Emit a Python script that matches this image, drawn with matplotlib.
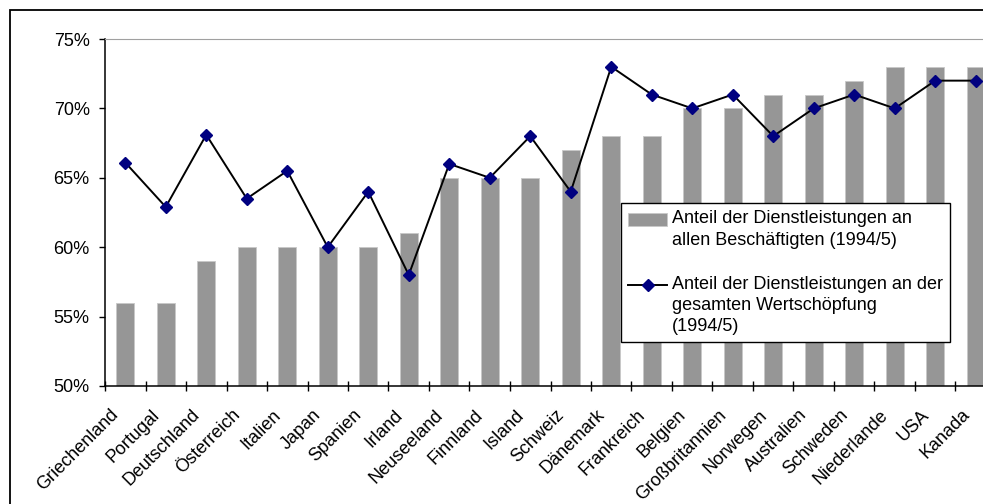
import numpy as np
import matplotlib
matplotlib.use("Agg")
import matplotlib.pyplot as plt
from matplotlib.patches import Rectangle
from matplotlib.ticker import FuncFormatter
from matplotlib.transforms import Affine2D, ScaledTranslation
from matplotlib.legend_handler import HandlerPatch, HandlerLine2D, update_from_first_child

plt.rcParams['font.family'] = ['Liberation Sans', 'DejaVu Sans']

# Länder, sortiert nach Beschäftigtenanteil
laender = ['Griechenland', 'Portugal', 'Deutschland', 'Österreich', 'Italien',
           'Japan', 'Spanien', 'Irland', 'Neuseeland', 'Finnland', 'Island',
           'Schweiz', 'Dänemark', 'Frankreich', 'Belgien', 'Großbritannien',
           'Norwegen', 'Australien', 'Schweden', 'Niederlande', 'USA', 'Kanada']

# Anteil an allen Beschäftigten (%)
beschaeftigte = [56, 56, 59, 60, 60, 60, 60, 61, 65, 65, 65,
                 67, 68, 68, 70, 70, 71, 71, 72, 73, 73, 73]

# Anteil an der gesamten Wertschöpfung (%)
wertschoepfung = [66.1, 62.9, 68.1, 63.5, 65.5, 60, 64, 58, 66, 65, 68,
                  64, 73, 71, 70, 71, 68, 70, 71, 70, 72, 72]

lab_bar = 'Anteil der Dienstleistungen an\nallen Beschäftigten (1994/5)'
lab_line = 'Anteil der Dienstleistungen an der\ngesamten Wertschöpfung\n(1994/5)'

FS = 13
W, H = 983, 504


# Legendensymbol auf Höhe der ersten Textzeile setzen
class PatchErsteZeile(HandlerPatch):
    def __init__(self, dy, **kw):
        super().__init__(**kw)
        self.dy = dy

    def create_artists(self, legend, orig_handle, xdescent, ydescent,
                       width, height, fontsize, trans):
        trans = trans + Affine2D().translate(0, self.dy)
        return super().create_artists(legend, orig_handle, xdescent, ydescent,
                                      width, height, fontsize, trans)


class LinieErsteZeile(HandlerLine2D):
    def __init__(self, dy, **kw):
        super().__init__(**kw)
        self.dy = dy

    def create_artists(self, legend, orig_handle, xdescent, ydescent,
                       width, height, fontsize, trans):
        trans = trans + Affine2D().translate(0, self.dy)
        return super().create_artists(legend, orig_handle, xdescent, ydescent,
                                      width, height, fontsize, trans)


fig = plt.figure(figsize=(W / 100, H / 100), dpi=100)
fig.patch.set_facecolor('white')

# Rahmen um die Diagrammfläche
fig.patches.append(Rectangle((10 / W, -0.2), 1.2, 1.2 - 10 / H,
                             transform=fig.transFigure, fill=False,
                             edgecolor='black', linewidth=1.3))

ax = fig.add_axes([105 / W, 1 - 386 / H, (996 - 105) / W, (386 - 39) / H])

x = np.arange(len(laender))
bars = ax.bar(x, beschaeftigte, width=0.45, color='#969696', edgecolor='#c8c8c8',
              linewidth=0.6, label=lab_bar, zorder=2)
line, = ax.plot(x, wertschoepfung, color='black', linewidth=1.4, marker='D',
                markersize=6.5, markerfacecolor='#000080', markeredgecolor='#000080',
                label=lab_line, zorder=3)

ax.set_xlim(-0.5, len(laender) - 0.5)
ax.set_ylim(50, 75)
ax.set_yticks(np.arange(50, 76, 5))
ax.yaxis.set_major_formatter(FuncFormatter(lambda v, p: f'{v:.0f}%'))
ax.tick_params(axis='y', direction='out', length=4.5, width=1, labelsize=FS, pad=6.5)

# Teilstriche zwischen den Kategorien, Beschriftung in der Mitte
ax.set_xticks(np.arange(len(laender) + 1) - 0.5)
ax.set_xticklabels([])
ax.tick_params(axis='x', which='major', direction='inout', length=7.5, width=1)
ax.set_xticks(x, minor=True)
ax.set_xticklabels(laender, minor=True, rotation=45, ha='right', va='center',
                   rotation_mode='anchor', fontsize=FS)
ax.tick_params(axis='x', which='minor', length=0, pad=19)
for lbl in ax.get_xticklabels(minor=True):
    lbl.set_transform(lbl.get_transform() + ScaledTranslation(-9 / 100, 0, fig.dpi_scale_trans))

ax.spines['top'].set_color('#a0a0a0')
ax.spines['right'].set_visible(False)
ax.spines['left'].set_linewidth(1.1)
ax.spines['bottom'].set_linewidth(1.1)

zeile = 20.5  # Zeilenabstand in Pixeln
leg = ax.legend(handles=[bars, line], labels=[lab_bar, lab_line],
                handler_map={bars: PatchErsteZeile(zeile * 0.5, update_func=update_from_first_child),
                             line: LinieErsteZeile(zeile * 1.0)},
                loc='upper left', bbox_to_anchor=(621 / W, 1 - 203 / H),
                bbox_transform=fig.transFigure, fontsize=FS, frameon=True,
                fancybox=False, framealpha=1, edgecolor='black',
                borderpad=0.4, labelspacing=1.5, handlelength=2.15,
                handleheight=0.7, handletextpad=0.25, borderaxespad=0)
leg.get_frame().set_linewidth(1.0)
for t in leg.get_texts():
    t.set_linespacing(1.33)

fig.savefig('out.png', dpi=100, facecolor='white')
